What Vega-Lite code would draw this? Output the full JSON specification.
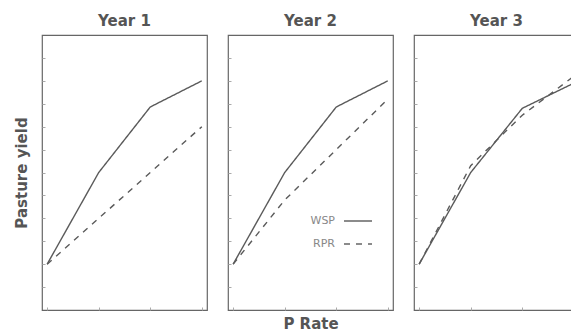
{
  "$schema": "https://vega.github.io/schema/vega-lite/v6.json",
  "padding": {"left": 13, "top": 13, "right": 0, "bottom": 0},
  "background": "white",
  "spacing": 18,
  "resolve": {"scale": {"strokeDash": "independent"}, "legend": {"strokeDash": "independent"}},
  "data": {
    "values": [
      {"year": "Year 1", "rate": 0, "series": "WSP", "yield": 1.0},
      {"year": "Year 1", "rate": 1, "series": "WSP", "yield": 3.0},
      {"year": "Year 1", "rate": 2, "series": "WSP", "yield": 4.43},
      {"year": "Year 1", "rate": 3, "series": "WSP", "yield": 5.0},
      {"year": "Year 1", "rate": 0, "series": "RPR", "yield": 1.0},
      {"year": "Year 1", "rate": 1, "series": "RPR", "yield": 2.0},
      {"year": "Year 1", "rate": 2, "series": "RPR", "yield": 3.0},
      {"year": "Year 1", "rate": 3, "series": "RPR", "yield": 4.0},
      {"year": "Year 2", "rate": 0, "series": "WSP", "yield": 1.0},
      {"year": "Year 2", "rate": 1, "series": "WSP", "yield": 3.0},
      {"year": "Year 2", "rate": 2, "series": "WSP", "yield": 4.43},
      {"year": "Year 2", "rate": 3, "series": "WSP", "yield": 5.0},
      {"year": "Year 2", "rate": 0, "series": "RPR", "yield": 1.0},
      {"year": "Year 2", "rate": 1, "series": "RPR", "yield": 2.4},
      {"year": "Year 2", "rate": 2, "series": "RPR", "yield": 3.5},
      {"year": "Year 2", "rate": 3, "series": "RPR", "yield": 4.6},
      {"year": "Year 3", "rate": 0, "series": "WSP", "yield": 1.0},
      {"year": "Year 3", "rate": 1, "series": "WSP", "yield": 3.0},
      {"year": "Year 3", "rate": 2, "series": "WSP", "yield": 4.4},
      {"year": "Year 3", "rate": 3, "series": "WSP", "yield": 4.95},
      {"year": "Year 3", "rate": 0, "series": "RPR", "yield": 1.0},
      {"year": "Year 3", "rate": 1, "series": "RPR", "yield": 3.15},
      {"year": "Year 3", "rate": 2, "series": "RPR", "yield": 4.25},
      {"year": "Year 3", "rate": 3, "series": "RPR", "yield": 5.1}
    ]
  },
  "config": {
    "font": "DejaVu Sans",
    "view": {"stroke": "#666", "strokeWidth": 1.2},
    "line": {"stroke": "#5a5a5a", "strokeWidth": 1.4},
    "axis": {
      "labels": false,
      "domain": false,
      "grid": false,
      "tickSize": -3,
      "tickColor": "#aaa",
      "titleFont": "DejaVu Sans",
      "titleFontSize": 15,
      "titleFontWeight": "bold",
      "titleColor": "#555"
    },
    "title": {"font": "DejaVu Sans", "fontSize": 15, "fontWeight": "bold", "color": "#555", "offset": 6}
  },
  "hconcat": [
    {
      "title": "Year 1",
      "width": 165,
      "height": 275,
      "transform": [{"filter": "datum.year == 'Year 1'"}],
      "mark": {"type": "line"},
      "encoding": {
        "x": {"field": "rate", "type": "quantitative", "scale": {"domain": [-0.1, 3.1], "nice": false, "zero": false}, "axis": {"values": [0, 1, 2, 3], "title": null}},
        "y": {"field": "yield", "type": "quantitative", "scale": {"domain": [0, 6], "nice": false}, "axis": {"values": [0.5, 1, 1.5, 2, 2.5, 3, 3.5, 4, 4.5, 5, 5.5], "title": "Pasture yield", "titlePadding": 12}},
        "strokeDash": {"field": "series", "type": "nominal", "scale": {"domain": ["WSP", "RPR"], "range": [[1, 0], [6, 6]]}, "legend": null}
      }
    },
    {
      "title": "Year 2",
      "width": 165,
      "height": 275,
      "transform": [{"filter": "datum.year == 'Year 2'"}],
      "mark": {"type": "line"},
      "encoding": {
        "x": {"field": "rate", "type": "quantitative", "scale": {"domain": [-0.1, 3.1], "nice": false, "zero": false}, "axis": {"values": [0, 1, 2, 3], "title": "P Rate", "titlePadding": 6}},
        "y": {"field": "yield", "type": "quantitative", "scale": {"domain": [0, 6], "nice": false}, "axis": {"values": [0.5, 1, 1.5, 2, 2.5, 3, 3.5, 4, 4.5, 5, 5.5], "title": null}},
        "strokeDash": {"field": "series", "type": "nominal", "scale": {"domain": ["WSP", "RPR"], "range": [[1, 0], [6, 6]]},
          "legend": {"title": null, "orient": "none", "legendX": 115, "legendY": 171, "padding": 0, "symbolType": "stroke", "symbolSize": 784, "symbolStrokeWidth": 1.3, "symbolStrokeColor": "#666", "labelFont": "DejaVu Sans", "labelFontSize": 11, "labelColor": "#888", "labelAlign": "right", "labelOffset": -38, "rowPadding": 3}}
      }
    },
    {
      "title": "Year 3",
      "width": 165,
      "height": 275,
      "transform": [{"filter": "datum.year == 'Year 3'"}],
      "mark": {"type": "line"},
      "encoding": {
        "x": {"field": "rate", "type": "quantitative", "scale": {"domain": [-0.1, 3.1], "nice": false, "zero": false}, "axis": {"values": [0, 1, 2, 3], "title": null}},
        "y": {"field": "yield", "type": "quantitative", "scale": {"domain": [0, 6], "nice": false}, "axis": {"values": [0.5, 1, 1.5, 2, 2.5, 3, 3.5, 4, 4.5, 5, 5.5], "title": null}},
        "strokeDash": {"field": "series", "type": "nominal", "scale": {"domain": ["WSP", "RPR"], "range": [[1, 0], [6, 6]]}, "legend": null}
      }
    }
  ]
}
